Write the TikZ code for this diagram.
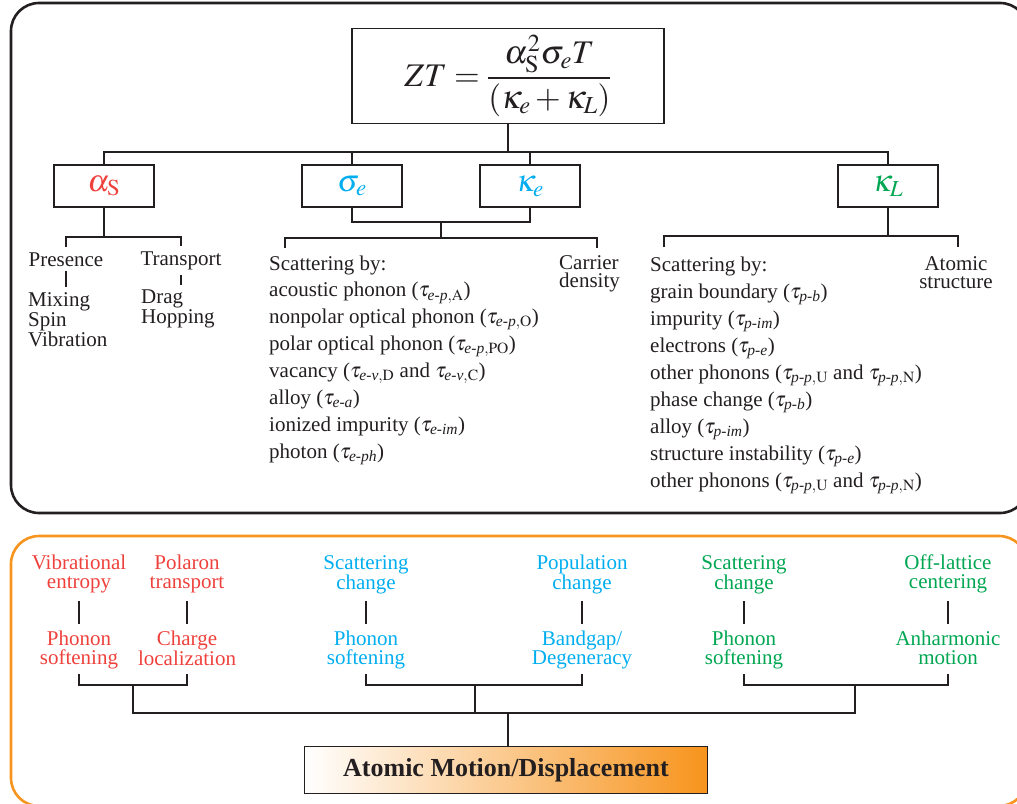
\documentclass[tikz,border=0pt]{standalone}
\usepackage{amsmath}
\usepackage{mathptmx}
\usepackage{fontspec}
\setmainfont{Liberation Serif}
\definecolor{ink}{RGB}{35,31,32}
\definecolor{zred}{RGB}{239,65,60}
\definecolor{zblue}{RGB}{0,174,239}
\definecolor{zgreen}{RGB}{0,166,81}
\definecolor{zorange}{RGB}{247,148,29}
\tikzset{
  panel/.style={line width=2.6pt, rounded corners=28pt},
  link/.style={draw=ink, line width=1.3pt},
  eqbox/.style={draw=ink, line width=1.4pt, minimum width=312pt, minimum height=95pt, inner sep=0pt, text=ink, font=\fontsize{33}{38}\selectfont},
  varbox/.style={draw=ink, line width=1.4pt, minimum width=100pt, minimum height=42pt, inner sep=0pt, font=\fontsize{31}{36}\selectfont},
  word/.style={inner xsep=0pt, inner ysep=5pt, text=ink, font=\fontsize{21}{20}\selectfont},
  item/.style={inner sep=0pt, text=ink, font=\fontsize{21}{18}\selectfont},
  mech/.style={inner sep=0pt, anchor=north, align=center, font=\fontsize{21}{19}\selectfont},
  titlebox/.style={draw=ink, line width=1.6pt, minimum width=403pt, minimum height=47pt, left color=white, right color=zorange, text=ink, font=\fontsize{26}{30}\selectfont\bfseries}
}
\begin{document}
\begin{tikzpicture}[x=1pt,y=-1pt]
\useasboundingbox (0,0) rectangle (1017,803);
\draw[panel, draw=ink] (11,3) rectangle (1028,513);
\draw[panel, draw=zorange] (11,536) rectangle (1027,806);

\node[eqbox] (zt) at (508,76) {$ZT=\dfrac{\alpha_{\mathrm{S}}^{2}\sigma_{e}T}{(\kappa_{e}+\kappa_{L})}$};
\node[varbox, text=zred] (aS) at (104,186) {$\alpha_{\mathrm{S}}$};
\node[varbox, text=zblue] (se) at (352,186) {$\sigma_{e}$};
\node[varbox, text=zblue] (ke) at (530,186) {$\kappa_{e}$};
\node[varbox, text=zgreen] (kL) at (888,186) {$\kappa_{L}$};
\coordinate (bar) at (508,152);
\draw[link] (aS.north) |- (bar) -| (kL.north);
\draw[link, line width=2pt] (zt.south) -- (bar);
\draw[link] (se.north) -- (se.north |- bar);
\draw[link] (ke.north) -- (ke.north |- bar);

\node[word, anchor=base] (pres) at (66,266) {Presence};
\node[word, anchor=base] (trans) at (181,265) {Transport};
\node[word, anchor=north west, align=left] (mix) at (28,287) {Mixing\\Spin\\Vibration};
\node[word, anchor=north west, align=left] (drag) at (141,285) {Drag\\Hopping};
\coordinate (aj) at (104,237);
\draw[link, line width=2pt] (aS.south) -- (aj);
\draw[link] (pres.north) |- (aj) -| (trans.north);
\draw[link] (pres.south) -- (pres.south |- mix.north);
\draw[link] (trans.south) -- (trans.south |- drag.north);

\coordinate (ej) at (441,222);
\coordinate (eb) at (441,238);
\coordinate (eL) at (285,248);
\coordinate (eR) at (597,248);
\draw[link] (se.south) |- (ej) -| (ke.south);
\draw[link] (ej) -- (eb);
\draw[link] (eL) |- (eb) -| (eR);
\foreach \t [count=\i] in {{Scattering by:},
  {acoustic phonon ($\tau_{\textit{e-p},\mathrm{A}}$)},
  {nonpolar optical phonon ($\tau_{\textit{e-p},\mathrm{O}}$)},
  {polar optical phonon ($\tau_{\textit{e-p},\mathrm{PO}}$)},
  {vacancy ($\tau_{\textit{e-v},\mathrm{D}}$ and $\tau_{\textit{e-v},\mathrm{C}}$)},
  {alloy ($\tau_{\textit{e-a}}$)},
  {ionized impurity ($\tau_{\textit{e-im}}$)},
  {photon ($\tau_{\textit{e-ph}}$)}}
  \node[item, anchor=base west] (es\i) at (269,{270+26.9*(\i-1)}) {\t};
\node[item, anchor=north west, align=left] (cd) at (559,255) {Carrier\\density};

\coordinate (lb) at (888,236);
\coordinate (lL) at (664,247);
\coordinate (lR) at (958,247);
\draw[link, line width=2pt] (kL.south) -- (lb);
\draw[link] (lL) |- (lb) -| (lR);
\foreach \t [count=\i] in {{Scattering by:},
  {grain boundary ($\tau_{\textit{p-b}}$)},
  {impurity ($\tau_{\textit{p-im}}$)},
  {electrons ($\tau_{\textit{p-e}}$)},
  {other phonons ($\tau_{\textit{p-p},\mathrm{U}}$ and $\tau_{\textit{p-p},\mathrm{N}}$)},
  {phase change ($\tau_{\textit{p-b}}$)},
  {alloy ($\tau_{\textit{p-im}}$)},
  {structure instability ($\tau_{\textit{p-e}}$)},
  {other phonons ($\tau_{\textit{p-p},\mathrm{U}}$ and $\tau_{\textit{p-p},\mathrm{N}}$)}}
  \node[item, anchor=base west] (ls\i) at (650,{271+27*(\i-1)}) {\t};
\node[item, anchor=north, align=center] (as) at (956,256) {Atomic\\structure};

\foreach \n/\x/\c/\up/\dn in {
  r1/79/zred/{Vibrational\\entropy}/{Phonon\\softening},
  r2/187/zred/{Polaron\\transport}/{Charge\\localization},
  b1/366/zblue/{Scattering\\change}/{Phonon\\softening},
  b2/582/zblue/{Population\\change}/{Bandgap/\\Degeneracy},
  g1/744/zgreen/{Scattering\\change}/{Phonon\\softening},
  g2/948/zgreen/{Off-lattice\\centering}/{Anharmonic\\motion}}{
  \node[mech, text=\c] (top\n) at (\x,555) {\up};
  \node[mech, text=\c] (bot\n) at (\x,631) {\dn};
  \draw[link, shorten <=46pt, shorten >=7pt] (top\n.north) -- (bot\n.north);
  \path (bot\n.north) ++(0,43) coordinate (end\n);
}
\coordinate (rj) at (133,685);
\coordinate (bj) at (475,685);
\coordinate (gj) at (855,685);
\coordinate (mj) at (508,713);
\draw[link] (endr1) |- (rj) -| (endr2);
\draw[link] (endb1) |- (bj) -| (endb2);
\draw[link] (endg1) |- (gj) -| (endg2);
\draw[link, line width=2.3pt] (rj) |- (mj) -| (gj);
\draw[link, line width=2pt] (bj) -- (bj |- mj);
\node[titlebox] (amd) at (506,770) {Atomic Motion/Displacement};
\draw[link, line width=2pt] (mj) -- (mj |- amd.north);
\end{tikzpicture}
\end{document}
